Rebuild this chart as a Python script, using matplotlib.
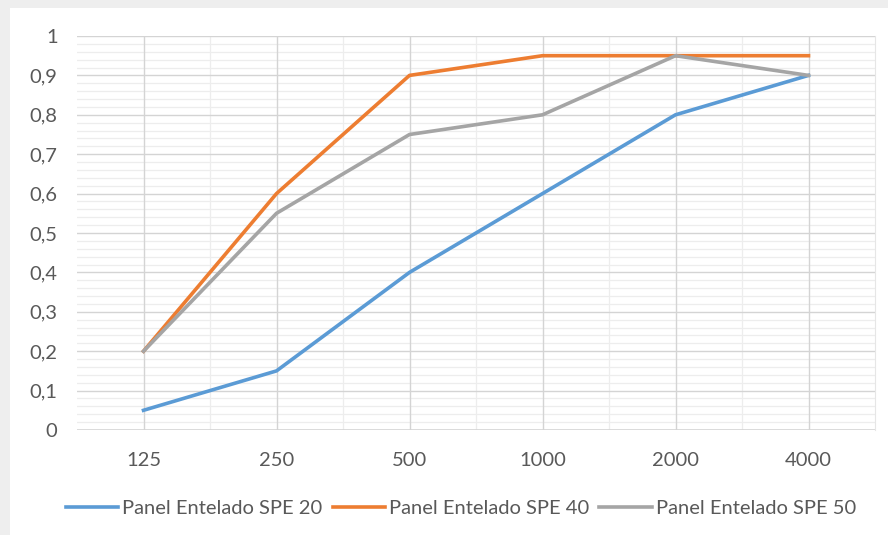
import numpy as np
import matplotlib
matplotlib.use("Agg")
import matplotlib.pyplot as plt
from matplotlib.ticker import MultipleLocator, FixedLocator
from matplotlib.patches import Rectangle

frequencies = ["125", "250", "500", "1000", "2000", "4000"]
spe20 = [0.05, 0.15, 0.40, 0.60, 0.80, 0.90]
spe40 = [0.20, 0.60, 0.90, 0.95, 0.95, 0.95]
spe50 = [0.20, 0.55, 0.75, 0.80, 0.95, 0.90]
series_names = ["Panel Entelado SPE 20", "Panel Entelado SPE 40", "Panel Entelado SPE 50"]
colors = ["#5B9BD5", "#ED7D31", "#A5A5A5"]
y_ticks = [0, 0.1, 0.2, 0.3, 0.4, 0.5, 0.6, 0.7, 0.8, 0.9, 1]
y_labels = ["0", "0,1", "0,2", "0,3", "0,4", "0,5", "0,6", "0,7", "0,8", "0,9", "1"]

plt.rcParams['font.family'] = ['Lato', 'DejaVu Sans']
text_color = "#595959"
fs = 14.5

fig = plt.figure(figsize=(8.88, 5.35), dpi=100, facecolor="#eeeeee")
# white chart area over the grey page
bg = Rectangle((10 / 888, 0), 1, 1 - 8 / 535, transform=fig.transFigure,
               facecolor="white", edgecolor="none", zorder=-10)
fig.add_artist(bg)

ax = fig.add_axes([77 / 888, 1 - 430 / 535, 798 / 888, 394 / 535])
ax.set_zorder(1)
ax.set_facecolor("white")
x = np.arange(len(frequencies))

for vals, name, c in zip([spe20, spe40, spe50], series_names, colors):
    ax.plot(x, vals, color=c, lw=2.6, label=name, solid_joinstyle="round", zorder=3)

ax.set_xlim(-0.5, len(frequencies) - 0.5)
ax.set_ylim(0, 1)
ax.set_xticks(x)
ax.set_xticklabels(frequencies)
ax.xaxis.set_minor_locator(FixedLocator(x[:-1] + 0.5))
ax.set_yticks(y_ticks)
ax.set_yticklabels(y_labels)
ax.yaxis.set_minor_locator(MultipleLocator(0.02))

# faint minor grid underneath, major grid drawn on top of it
ax.grid(which="minor", color="#ededed", lw=0.9)
ax.set_axisbelow(True)
for xv in x:
    ax.axvline(xv, color="#d4d4d4", lw=1.0, zorder=1)
for yv in y_ticks:
    ax.axhline(yv, color="#d4d4d4", lw=1.2 if yv == 0 else 1.0, zorder=1)

ax.tick_params(which="both", length=0)
ax.tick_params(axis="y", pad=14, labelsize=fs, labelcolor=text_color)
ax.tick_params(axis="x", pad=16, labelsize=fs, labelcolor=text_color)
for s in ["top", "left", "bottom"]:
    ax.spines[s].set_visible(False)
ax.spines["right"].set_color("#e6e6e6")

leg = fig.legend(loc="center", bbox_to_anchor=(461 / 888, 1 - 508 / 535), ncol=3,
                 frameon=False, fontsize=fs, handlelength=2.6, handletextpad=0.2,
                 columnspacing=0.5)
for t in leg.get_texts():
    t.set_color(text_color)

fig.savefig("out.png", dpi=100, facecolor=fig.get_facecolor())
